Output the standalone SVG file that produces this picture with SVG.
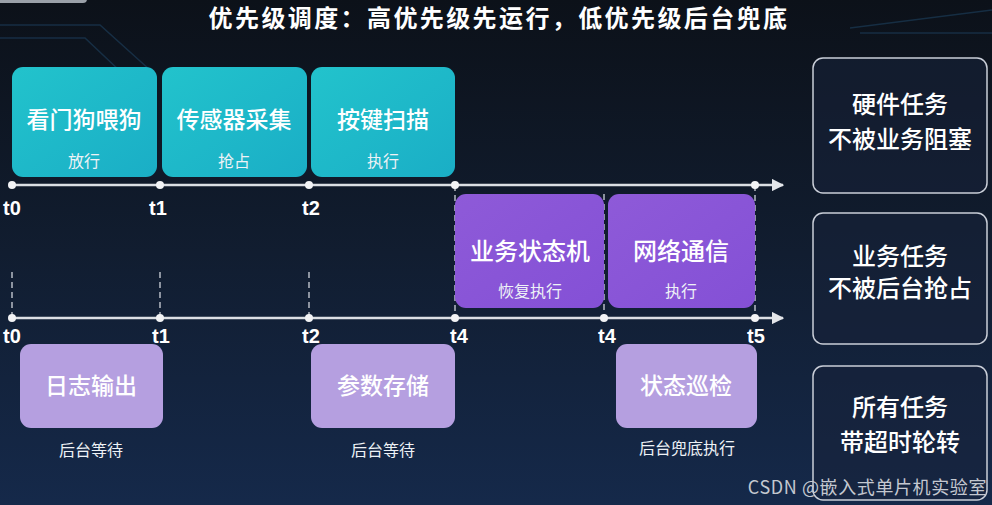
<svg xmlns="http://www.w3.org/2000/svg" width="992" height="505" viewBox="0 0 992 505">
<defs>
<linearGradient id="bg" x1="0" y1="0" x2="0" y2="1">
<stop offset="0" stop-color="#0c1119"/>
<stop offset="0.5" stop-color="#111d30"/>
<stop offset="1" stop-color="#15294a"/>
</linearGradient>
<linearGradient id="cyan" x1="0" y1="0" x2="1" y2="1">
<stop offset="0" stop-color="#22c3cc"/>
<stop offset="1" stop-color="#1aaec6"/>
</linearGradient>
<linearGradient id="purple" x1="0" y1="0" x2="1" y2="1">
<stop offset="0" stop-color="#8e5ad8"/>
<stop offset="1" stop-color="#8450d6"/>
</linearGradient>
<marker id="arr" viewBox="0 0 10 10" refX="9" refY="5" markerWidth="5" markerHeight="5" orient="auto">
<path d="M0,0 L10,5 L0,10 z" fill="#e4e6ea"/>
</marker>
<style>
.t{font-family:"Noto Sans CJK SC","Noto Sans",sans-serif;fill:#ffffff;text-anchor:middle}
.big{font-size:23px;font-weight:500}
.side-t{font-size:24px;font-weight:500}
.sub{font-size:16px;fill:#eef2f6}
.lab{font-family:"Liberation Sans","Noto Sans",sans-serif;font-size:20px;font-weight:bold;fill:#ffffff;text-anchor:middle}
.axis{stroke:#dcdfe4;stroke-width:2.5;fill:none}
.dash{stroke:#cfd3da;stroke-width:1.3;stroke-dasharray:6 4;fill:none}
.dot{fill:#f2f3f5}
.side{fill:#17223a;fill-opacity:0.55;stroke:#c9ced8;stroke-width:1.5}
.lav{fill:#b59fe0}
</style>
</defs>
<rect width="992" height="505" fill="url(#bg)"/>
<g stroke="#1b3a55" stroke-width="1.5" fill="none" opacity="0.7">
<path d="M0,25 L100,25 L150,70"/>
<path d="M0,38 L85,38 L140,90"/>
<path d="M850,28 L992,10"/>
<path d="M860,33 L992,33"/>
</g>
<rect x="-5" y="-6" width="92" height="9" rx="4" fill="#9aa0a8"/>
<text class="t" x="499" y="27" style="font-size:24px;font-weight:bold;letter-spacing:2.4px">优先级调度：高优先级先运行，低优先级后台兜底</text>

<g id="connectors">
<line class="dash" x1="12" y1="272" x2="12" y2="318"/>
<line class="dash" x1="160" y1="272" x2="160" y2="318"/>
<line class="dash" x1="309" y1="272" x2="309" y2="318"/>
<line class="dash" x1="455" y1="185" x2="455" y2="318"/>
<line class="dash" x1="604" y1="194" x2="604" y2="318"/>
<line class="dash" x1="755" y1="185" x2="755" y2="318"/>
<line class="axis" x1="12" y1="185" x2="783" y2="185" marker-end="url(#arr)"/>
<line class="axis" x1="12" y1="318" x2="783" y2="318" marker-end="url(#arr)"/>
<circle class="dot" cx="12" cy="185" r="4"/>
<circle class="dot" cx="160" cy="185" r="4"/>
<circle class="dot" cx="309" cy="185" r="4"/>
<circle class="dot" cx="455" cy="185" r="4"/>
<circle class="dot" cx="755" cy="185" r="4"/>
<circle class="dot" cx="12" cy="318" r="4"/>
<circle class="dot" cx="160" cy="318" r="4"/>
<circle class="dot" cx="309" cy="318" r="4"/>
<circle class="dot" cx="455" cy="318" r="4"/>
<circle class="dot" cx="604" cy="318" r="4"/>
<circle class="dot" cx="755" cy="318" r="4"/>
<text class="lab" x="12" y="215">t0</text>
<text class="lab" x="158" y="215">t1</text>
<text class="lab" x="311" y="215">t2</text>
<text class="lab" x="12" y="343">t0</text>
<text class="lab" x="161" y="343">t1</text>
<text class="lab" x="311" y="343">t2</text>
<text class="lab" x="459" y="343">t4</text>
<text class="lab" x="607" y="343">t4</text>
<text class="lab" x="756" y="343">t5</text>
</g>

<g id="n-watchdog">
<rect x="12" y="67" width="145" height="110" rx="11" fill="url(#cyan)"/>
<text class="t big" x="84" y="128">看门狗喂狗</text>
<text class="t sub" x="84" y="167">放行</text>
</g>
<g id="n-sensor">
<rect x="162" y="67" width="145" height="110" rx="11" fill="url(#cyan)"/>
<text class="t big" x="234" y="128">传感器采集</text>
<text class="t sub" x="234" y="167">抢占</text>
</g>
<g id="n-key">
<rect x="311" y="67" width="144" height="110" rx="11" fill="url(#cyan)"/>
<text class="t big" x="383" y="128">按键扫描</text>
<text class="t sub" x="383" y="167">执行</text>
</g>

<g id="n-fsm">
<rect x="455" y="194" width="149" height="114" rx="11" fill="url(#purple)"/>
<text class="t side-t" x="530" y="260">业务状态机</text>
<text class="t sub" x="530" y="297">恢复执行</text>
</g>
<g id="n-net">
<rect x="608" y="194" width="147" height="114" rx="11" fill="url(#purple)"/>
<text class="t side-t" x="681" y="260">网络通信</text>
<text class="t sub" x="681" y="297">执行</text>
</g>

<g id="n-log">
<rect class="lav" x="20" y="344" width="143" height="84" rx="11"/>
<text class="t big" x="91" y="394">日志输出</text>
<text class="t sub" x="91" y="456">后台等待</text>
</g>
<g id="n-param">
<rect class="lav" x="311" y="344" width="144" height="84" rx="11"/>
<text class="t big" x="383" y="394">参数存储</text>
<text class="t sub" x="383" y="456">后台等待</text>
</g>
<g id="n-patrol">
<rect class="lav" x="616" y="344" width="141" height="84" rx="11"/>
<text class="t big" x="686" y="394">状态巡检</text>
<text class="t sub" x="687" y="454">后台兜底执行</text>
</g>

<g id="n-hw">
<rect class="side" x="813" y="58" width="174" height="135" rx="10"/>
<text class="t side-t" x="900" y="113">硬件任务</text>
<text class="t side-t" x="900" y="148">不被业务阻塞</text>
</g>
<g id="n-biz">
<rect class="side" x="813" y="213" width="174" height="131" rx="10"/>
<text class="t side-t" x="900" y="265">业务任务</text>
<text class="t side-t" x="900" y="297">不被后台抢占</text>
</g>
<g id="n-all">
<rect class="side" x="813" y="366" width="174" height="134" rx="10"/>
<text class="t side-t" x="900" y="416">所有任务</text>
<text class="t side-t" x="900" y="451">带超时轮转</text>
</g>
<text x="987" y="494" style="font-family:'Noto Sans CJK SC','Noto Sans',sans-serif;font-size:18px;letter-spacing:0.6px;fill:#c4c8d0;text-anchor:end">CSDN @嵌入式单片机实验室</text>
</svg>
